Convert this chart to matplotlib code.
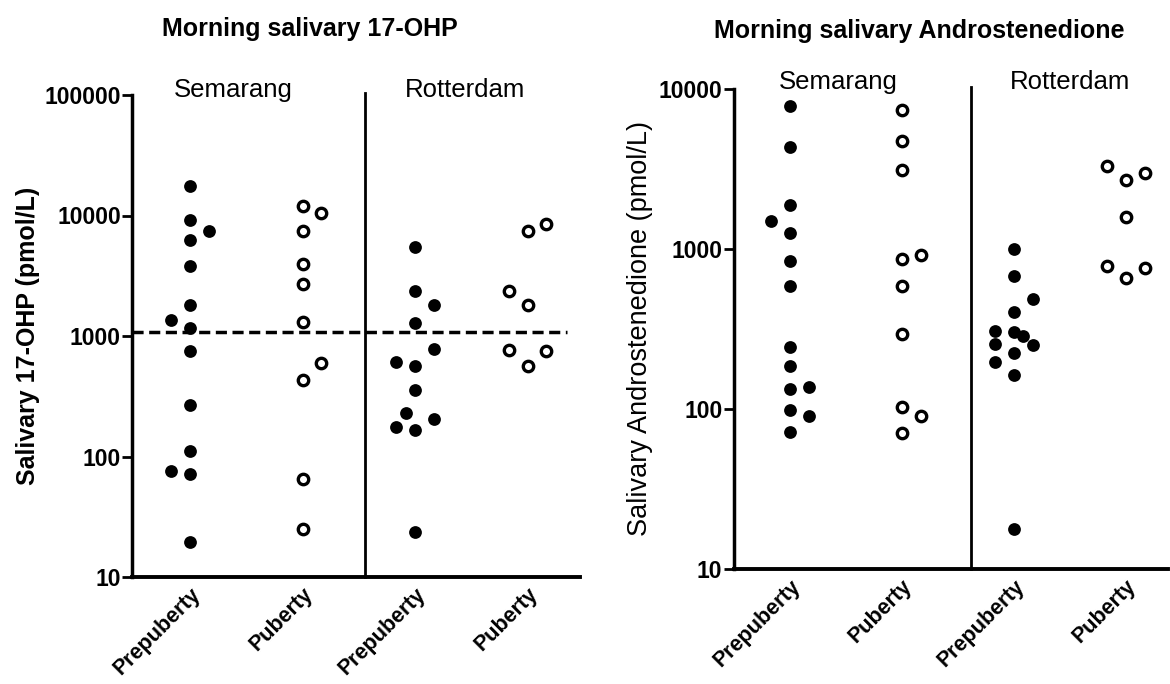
import numpy as np
import matplotlib
matplotlib.use("Agg")
import matplotlib.pyplot as plt

plt.rcParams["font.family"] = ["Liberation Sans", "DejaVu Sans"]

groups = ["Prepuberty", "Puberty", "Prepuberty", "Puberty"]
sites = ["Semarang", "Rotterdam"]

# salivary 17-OHP (pmol/L), one list per group
ohp_sem_pre = [17500, 9160, 7450, 6210, 3820, 1815, 1356, 1168, 757, 268, 112, 76, 71, 19.7]
ohp_sem_pub = [12100, 10570, 7450, 3950, 2680, 1313, 596, 428, 64.6, 24.8]
ohp_rot_pre = [5460, 2350, 1792, 1288, 782, 611, 566, 359, 228, 205, 176, 165, 23.7]
ohp_rot_pub = [8480, 7450, 2350, 1792, 767, 757, 566]
ohp_cutoff = 1080

# salivary androstenedione (pmol/L)
andro_sem_pre = [7800, 4350, 1892, 1497, 1251, 847, 583, 245, 187, 136.5, 133, 98.6, 90.7, 71.8]
andro_sem_pub = [7390, 4725, 3110, 916, 860, 583, 295, 103.5, 90.3, 70.8]
andro_rot_pre = [1005, 681, 484, 404, 309, 305, 285, 255, 251, 224, 197, 164, 17.9]
andro_rot_pub = [3280, 3005, 2700, 1580, 788, 762, 658]

# horizontal spread of the points inside each column (units of dot width)
ohp_spread = [
    [0, 0, 1, 0, 0, 0, -1, 0, 0, 0, 0, -1, 0, 0],
    [0, 1, 0, 0, 0, 0, 1, 0, 0, 0],
    [0, 0, 1, 0, 1, -1, 0, 0, -0.5, 1, -1, 0, 0],
    [1, 0, -1, 0, -1, 1, 0],
]
andro_spread = [
    [0, 0, 0, -1, 0, 0, 0, 0, 0, 1, 0, 0, 1, 0],
    [0, 0, 0, 1, 0, 0, 0, 0, 1, 0],
    [0, 0, 1, 0, -1, 0, 0.5, -1, 1, 0, -1, 0, 0],
    [-1, 1, 0, 0, -1, 1, 0],
]

TICK_FS = 16.5
DOT_STEP = 0.168


def draw_panel(ax, data, spread, ylim, divider, site_x, site_y):
    for i, (vals, sp) in enumerate(zip(data, spread)):
        x = i + np.array(sp) * DOT_STEP
        if i % 2 == 0:
            ax.plot(x, vals, "o", ms=9.2, mfc="black", mec="black", mew=0, ls="none",
                    zorder=3, clip_on=False)
        else:
            ax.plot(x, vals, "o", ms=7.5, mfc="white", mec="black", mew=2.4, ls="none",
                    zorder=3, clip_on=False)

    ax.set_yscale("log")
    ax.set_ylim(*ylim)
    ax.yaxis.set_major_formatter(matplotlib.ticker.FuncFormatter(lambda v, p: f"{v:.0f}"))
    ax.yaxis.set_minor_locator(matplotlib.ticker.NullLocator())
    ax.set_xticks(range(4))
    ax.set_xticklabels(groups, rotation=45, ha="right", va="top", rotation_mode="anchor",
                       fontsize=15.5, fontweight="bold")
    ax.tick_params(axis="x", length=0, pad=5)
    ax.tick_params(axis="y", length=7, width=2, pad=1, labelsize=TICK_FS)
    for lab in ax.get_yticklabels():
        lab.set_fontweight("bold")

    ax.axvline(divider, color="black", lw=2, ymax=1.005, clip_on=False)
    for sx, name in zip(site_x, sites):
        ax.text(sx, site_y, name, ha="center", va="center", fontsize=18.5,
                transform=ax.get_xaxis_transform())

    ax.spines["top"].set_visible(False)
    ax.spines["right"].set_visible(False)
    ax.spines["left"].set_linewidth(2.5)
    ax.spines["bottom"].set_linewidth(2.8)


fig = plt.figure(figsize=(11.7, 6.84), dpi=100)

ax1 = fig.add_axes([132 / 1170, 107 / 684, 448 / 1170, 482 / 684])
draw_panel(ax1, [ohp_sem_pre, ohp_sem_pub, ohp_rot_pre, ohp_rot_pub], ohp_spread,
           (10, 100000), 1.556, (0.38, 2.44), 1.01)
ax1.set_xlim(-0.516, 3.466)
ax1.axhline(ohp_cutoff, xmax=0.97, color="black", lw=2.5, ls=(0, (3.2, 1.6)), zorder=2)
ax1.set_ylabel("Salivary 17-OHP (pmol/L)", fontsize=18, fontweight="bold", labelpad=3)

ax2 = fig.add_axes([733.5 / 1170, 115 / 684, 434.5 / 1170, 480 / 684])
draw_panel(ax2, [andro_sem_pre, andro_sem_pub, andro_rot_pre, andro_rot_pub], andro_spread,
           (10, 10000), 1.616, (0.43, 2.5), 1.015)
ax2.set_xlim(-0.504, 3.376)
ax2.set_ylabel("Salivary Androstenedione (pmol/L)", fontsize=19.5, labelpad=4)

fig.text(310 / 1170, 1 - 29 / 684, "Morning salivary 17-OHP", ha="center", va="center",
         fontsize=18, fontweight="bold")
fig.text(919 / 1170, 1 - 31 / 684, "Morning salivary Androstenedione", ha="center",
         va="center", fontsize=18, fontweight="bold")

fig.savefig("out.png", dpi=100)
